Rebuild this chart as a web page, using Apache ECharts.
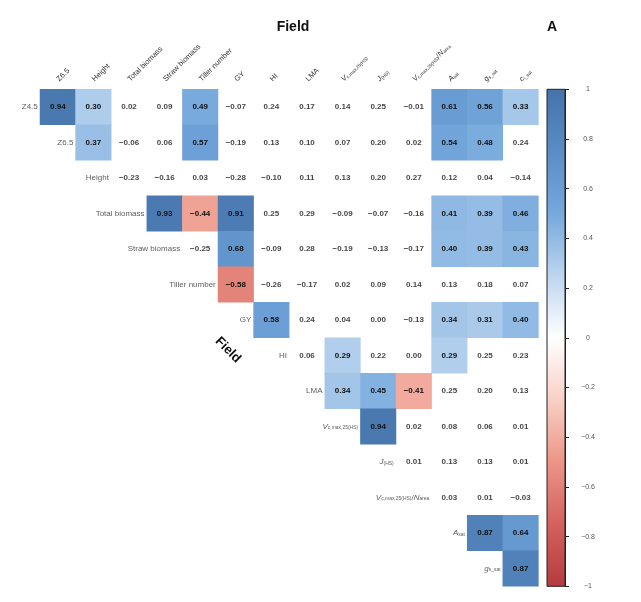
<!DOCTYPE html>
<html><head><meta charset="utf-8">
<script src="https://cdn.jsdelivr.net/npm/echarts@6/dist/echarts.min.js"></script>
<style>html,body{margin:0;padding:0;background:#fff}#c{width:641px;height:602px}</style>
</head><body><div id="c"></div>
<script>
// ---- data ----
const rowLabels = ['Z4.5','Z6.5','Height','Total biomass','Straw biomass','Tiller number','GY','HI','LMA',
  '{i|V}{s|c,max,25(HS)}','{i|J}{s|(HS)}','{i|V}{s|c,max,25(HS)}/{i|N}{s|area}','{i|A}{s|sat}','{i|g}{s|s_sat}'];
const colLabels = ['Z6.5','Height','Total biomass','Straw biomass','Tiller number','GY','HI','LMA',
  '{i|V}{s|c,max,25(HS)}','{i|J}{s|(HS)}','{i|V}{s|c,max,25(HS)}/{i|N}{s|area}','{i|A}{s|sat}','{i|g}{s|s_sat}','{i|c}{s|i_sat}'];
const rowZ45    = [0.94,0.30,0.02,0.09,0.49,-0.07,0.24,0.17,0.14,0.25,-0.01,0.61,0.56,0.33];
const rowZ65    = [0.37,-0.06,0.06,0.57,-0.19,0.13,0.10,0.07,0.20,0.02,0.54,0.48,0.24];
const rowHeight = [-0.23,-0.16,0.03,-0.28,-0.10,0.11,0.13,0.20,0.27,0.12,0.04,-0.14];
const rowTotal  = [0.93,-0.44,0.91,0.25,0.29,-0.09,-0.07,-0.16,0.41,0.39,0.46];
const rowStraw  = [-0.25,0.68,-0.09,0.28,-0.19,-0.13,-0.17,0.40,0.39,0.43];
const rowTiller = [-0.58,-0.26,-0.17,0.02,0.09,0.14,0.13,0.18,0.07];
const rowGY     = [0.58,0.24,0.04,0.00,-0.13,0.34,0.31,0.40];
const rowHI     = [0.06,0.29,0.22,0.00,0.29,0.25,0.23];
const rowLMA    = [0.34,0.45,-0.41,0.25,0.20,0.13];
const rowVcmax  = [0.94,0.02,0.08,0.06,0.01];
const rowJ      = [0.01,0.13,0.13,0.01];
const rowVN     = [0.03,0.01,-0.03];
const rowAsat   = [0.87,0.64];
const rowGs     = [0.87];
// significance flags (1 = coloured cell)
const sigZ45    = [1,1,0,0,1,0,0,0,0,0,0,1,1,1];
const sigZ65    = [1,0,0,1,0,0,0,0,0,0,1,1,0];
const sigHeight = [0,0,0,0,0,0,0,0,0,0,0,0];
const sigTotal  = [1,1,1,0,0,0,0,0,1,1,1];
const sigStraw  = [0,1,0,0,0,0,0,1,1,1];
const sigTiller = [1,0,0,0,0,0,0,0,0];
const sigGY     = [1,0,0,0,0,1,1,1];
const sigHI     = [0,1,0,0,1,0,0];
const sigLMA    = [1,1,1,0,0,0];
const sigVcmax  = [1,0,0,0,0];
const sigJ      = [0,0,0,0];
const sigVN     = [0,0,0];
const sigAsat   = [1,1];
const sigGs     = [1];
const colorbarTicks = [-1,-0.8,-0.6,-0.4,-0.2,0,0.2,0.4,0.6,0.8,1];
const palette = ['#b53b3e','#d4615c','#ec9586','#f9d0c5','#ffffff','#bcd5ef','#75a8dc','#5a8dc5','#4573aa'];

const rows = [rowZ45,rowZ65,rowHeight,rowTotal,rowStraw,rowTiller,rowGY,rowHI,rowLMA,rowVcmax,rowJ,rowVN,rowAsat,rowGs];
const sigs = [sigZ45,sigZ65,sigHeight,sigTotal,sigStraw,sigTiller,sigGY,sigHI,sigLMA,sigVcmax,sigJ,sigVN,sigAsat,sigGs];

const sigData = [], nsData = [], labData = [];
rows.forEach((r, i) => {
  r.forEach((v, k) => {
    const pt = [i + k, i, v];
    (sigs[i][k] ? sigData : nsData).push(pt);
  });
  labData.push([i, i, 0]);
});

const FONT = 'Liberation Sans, Arial, sans-serif';
const fmt = v => (v < 0 ? '\u2212' : '') + Math.abs(v).toFixed(2);
const rich = (fs) => ({
  i: {fontStyle: 'italic', fontSize: fs, fontFamily: FONT, color: '#333'},
  s: {fontSize: fs * 0.62, fontFamily: FONT, color: '#333', verticalAlign: 'bottom', padding: [3, 0, 0, 0]}
});

const GL = 40, GT = 89.3, CW = 35.6, CH = 35.5;
const gradStops = palette.map((c, i) => ({offset: 1 - i / (palette.length - 1), color: c})).reverse();

const chart = echarts.init(document.getElementById('c'), null, {renderer: 'canvas'});
chart.setOption({
  animation: false,
  backgroundColor: '#fff',
  grid: [
    {left: GL, top: GT, width: CW * 14, height: CH * 14},
    {left: 547, top: GT, width: 18, height: CH * 14, show: true, borderColor: '#222', borderWidth: 1, backgroundColor: 'transparent', z: 10}
  ],
  xAxis: [
    {type: 'category', data: colLabels, position: 'top', gridIndex: 0,
     axisLine: {show: false}, axisTick: {show: false}, splitLine: {show: false},
     axisLabel: {rotate: -45, interval: 0, margin: 9, fontSize: 7.5, color: '#333', fontFamily: FONT, rich: rich(7.5)}},
    {type: 'value', gridIndex: 1, show: false, min: 0, max: 1}
  ],
  yAxis: [
    {type: 'category', data: rowLabels, inverse: true, gridIndex: 0, show: false},
    {type: 'value', gridIndex: 1, min: -1, max: 1, interval: 0.2, position: 'right', z: 10,
     axisLine: {show: true, onZero: false, lineStyle: {color: '#222', width: 1}},
     axisTick: {show: true, inside: false, length: 4, lineStyle: {color: '#222'}},
     splitLine: {show: false},
     axisLabel: {margin: 23, align: 'center', fontSize: 7, color: '#555', fontFamily: FONT,
       formatter: v => { const r = Math.round(v * 10) / 10; if (!colorbarTicks.some(t => Math.abs(t - r) < 1e-9)) return ''; return r === 0 ? '0' : (r < 0 ? '\u2212' : '') + Math.abs(r); }}}
  ],
  visualMap: {
    type: 'continuous', show: false, min: -1, max: 1, seriesIndex: 0,
    inRange: {color: palette}
  },
  series: [
    {type: 'heatmap', xAxisIndex: 0, yAxisIndex: 0, data: sigData,
     label: {show: true, formatter: p => fmt(p.value[2]), fontSize: 8, fontWeight: 'bold', color: '#111', fontFamily: FONT},
     emphasis: {disabled: true}},
    {type: 'scatter', xAxisIndex: 0, yAxisIndex: 0, data: nsData, symbolSize: 0.1,
     itemStyle: {color: 'rgba(0,0,0,0)'},
     label: {show: true, position: 'inside', formatter: p => fmt(p.value[2]), fontSize: 8, fontWeight: 'bold', color: '#111', fontFamily: FONT},
     emphasis: {disabled: true}},
    {type: 'scatter', xAxisIndex: 0, yAxisIndex: 0, data: labData, symbolSize: 0.1,
     itemStyle: {color: 'rgba(0,0,0,0)'},
     label: {show: true, position: 'left', distance: 20, formatter: p => rowLabels[p.dataIndex], fontSize: 8, color: '#333', fontFamily: FONT, rich: rich(8)},
     emphasis: {disabled: true}},
    {type: 'custom', xAxisIndex: 1, yAxisIndex: 1, data: [[0, colorbarTicks[0], colorbarTicks[colorbarTicks.length - 1]]],
     silent: true, z: 1,
     renderItem: (params, api) => {
       const p0 = api.coord([0, api.value(2)]);
       const p1 = api.coord([1, api.value(1)]);
       return {type: 'rect', shape: {x: p0[0], y: p0[1], width: p1[0] - p0[0], height: p1[1] - p0[1]},
         style: {fill: new echarts.graphic.LinearGradient(0, 0, 0, 1, gradStops)}};
     }}
  ],
  graphic: [
    {type: 'text', x: 293, y: 27, style: {text: 'Field', font: 'bold 14px ' + FONT, fill: '#111', textAlign: 'center', textVerticalAlign: 'middle', verticalAlign: 'middle'}},
    {type: 'text', x: 552, y: 27, style: {text: 'A', font: 'bold 14px ' + FONT, fill: '#111', textAlign: 'center', textVerticalAlign: 'middle', verticalAlign: 'middle'}},
    {type: 'text', x: 228, y: 350, rotation: -Math.PI / 4, style: {text: 'Field', font: 'bold 13px ' + FONT, fill: '#111', textAlign: 'center', textVerticalAlign: 'middle', verticalAlign: 'middle'}}
  ]
});
</script></body></html>
